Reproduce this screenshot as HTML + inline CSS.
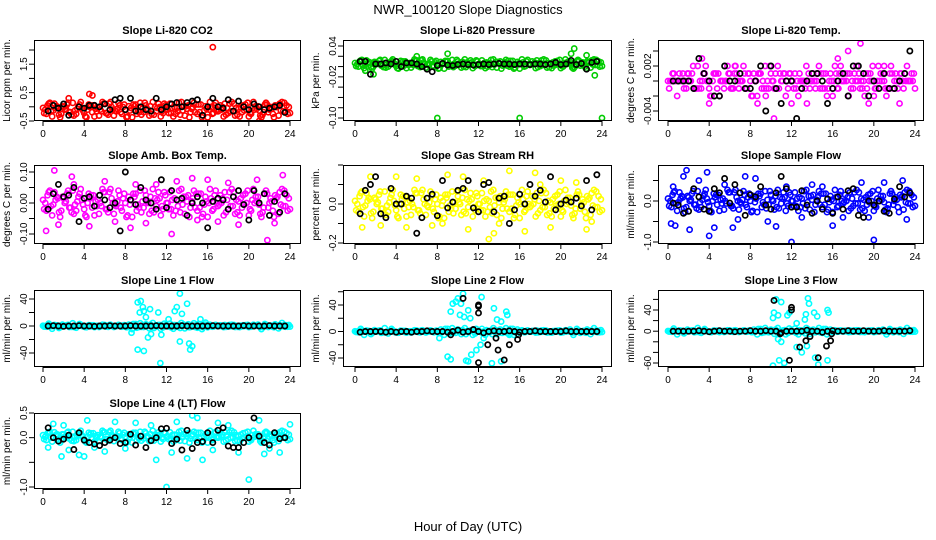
<!DOCTYPE html>
<html><head><meta charset="utf-8"><style>
html,body{margin:0;padding:0;background:#fff;}
svg{display:block;font-family:"Liberation Sans",Arial,sans-serif;}
</style></head><body>
<svg id="chart" width="936" height="540" viewBox="0 0 936 540">
<rect width="936" height="540" fill="#fff"/>
<text x="468" y="14" font-size="13" text-anchor="middle">NWR_100120  Slope Diagnostics</text>
<text x="468" y="531" font-size="13" text-anchor="middle">Hour of Day (UTC)</text>
<g id="panels"></g>
</svg>
<script>
// ---------------- DATA ----------------
const titles = ["Slope Li-820 CO2","Slope Li-820 Pressure","Slope Li-820 Temp.","Slope Amb. Box Temp.","Slope Gas Stream RH","Slope Sample Flow","Slope Line 1 Flow","Slope Line 2 Flow","Slope Line 3 Flow","Slope Line 4 (LT) Flow"];
const yTitles = ["Licor ppm per min.","kPa per min.","degrees C per min.","degrees C per min.","percent per min.","ml/min per min.","ml/min per min.","ml/min per min.","ml/min per min.","ml/min per min."];
const xTickLabels = [0,4,8,12,16,20,24];
const yTickValues = [
 [-0.5,0,0.5,1,1.5,2],
 [0.04,0.02,0,-0.02,-0.04,-0.06,-0.08,-0.10],
 [0.004,0.002,0,-0.002,-0.004],
 [0.10,0.05,0,-0.05,-0.10],
 [0.2,0.1,0,-0.1,-0.2],
 [0.5,0,-0.5,-1.0],
 [40,20,0,-20,-40],
 [60,40,20,0,-20,-40],
 [60,40,20,0,-20,-40,-60],
 [0.5,0,-0.5,-1.0]
];
const yTickLabels = [
 ["-0.5","0.5","1.5"],["0.04","-0.02","-0.10"],["0.002","-0.004"],["0.10","0.00","-0.10"],
 ["0.0","-0.2"],["0.0","-1.0"],["40","0","-40"],["40","0","-40"],["40","0","-60"],["0.5","0.0","-1.0"]
];
const seriesColors = ["#ff0000","#00cc00","#ff00ff","#ff00ff","#ffff00","#0000ff","#00ffff","#00ffff","#00ffff","#00ffff"];

const co2Vals = [-0.04,-0.25,0.14,-0.13,0.02,-0.37,-0.01,0.08,-0.19,-0.31,-0.07,0.17,-0.22,-0.1,0.05,-0.34,-0.04,-0.16,0.11,-0.28,-0.01,-0.13,0.14,-0.25,-0.1,0.02,-0.37,0.08,-0.19,-0.07,0.05,-0.31,0.17,-0.16,-0.01,-0.22,-0.1,0.11,-0.34,-0.04,-0.28,0.02,-0.07,-0.19,0.14,-0.25,0.08,-0.13,-0.37,-0.01,0.05,-0.16,-0.1,0.11,-0.22,0.17,-0.31,-0.07,-0.19,0.08,-0.34,-0.04,0.02,-0.13,-0.28,0.14,-0.1,-0.25,-0.01,0.11,-0.16,0.05,-0.22];
const presVals = [0.007,0.0,0.013,0.004,0.009,-0.004,0.008,0.011,0.002,-0.002,0.006,0.014,0.001,0.005,0.01,-0.003,0.007,0.003,0.012,-0.001,0.008,0.004,0.013,0.0,0.005,0.009,-0.004,0.011,0.002,0.006,0.01,-0.002,0.014,0.003,0.008,0.001,0.005,0.012,-0.003,0.007,-0.001,0.009,0.006,0.002,0.013,0.0,0.011,0.004,-0.004,0.008,0.01,0.003,0.005,0.012,0.001,0.014,-0.002,0.006,0.002,0.011,-0.003,0.007,0.009,0.004,-0.001,0.013,0.005,0.0,0.008,0.012,0.003,0.01,0.001];
const liTempVals = [0,0,0,0,0,0,0.001,0.001,-0.001,-0.001,0,0.002,-0.001,0,0.001,-0.002,0,0,0.001,-0.001,0.001,0,0.002,-0.001,0,0.001,-0.002,0.001,-0.001,0,0.001,-0.001,0.002,0,0.001,-0.001,0,0.001,-0.002,0,-0.001,0.001,0,-0.001,0.002,-0.001,0.001,0,-0.002,0.001,0.001,0,0,0.001,-0.001,0.002,-0.001,0,-0.001,0.001,-0.002,0,0.001,0,-0.001,0.002,0,-0.001,0.001,0.001,0,0.001,-0.001];
const ambVals = [0.01,-0.025,0.04,-0.005,0.02,-0.045,0.015,0.03,-0.015,-0.035,0.005,0.045,-0.02,0,0.025,-0.04,0.01,-0.01,0.035,-0.03,0.015,-0.005,0.04,-0.025,0,0.02,-0.045,0.03,-0.015,0.005,0.025,-0.035,0.045,-0.01,0.015,-0.02,0,0.035,-0.04,0.01,-0.03,0.02,0.005,-0.015,0.04,-0.025,0.03,-0.005,-0.045,0.015,0.025,-0.01,0,0.035,-0.02,0.045,-0.035,0.005,-0.015,0.03,-0.04,0.01,0.02,-0.005,-0.03,0.04,0,-0.025,0.015,0.035,-0.01,0.025,-0.02];
const rhVals = [0.016,-0.04,0.064,-0.008,0.032,-0.072,0.024,0.048,-0.024,-0.056,0.008,0.072,-0.032,0,0.04,-0.064,0.016,-0.016,0.056,-0.048,0.024,-0.008,0.064,-0.04,0,0.032,-0.072,0.048,-0.024,0.008,0.04,-0.056,0.072,-0.016,0.024,-0.032,0,0.056,-0.064,0.016,-0.048,0.032,0.008,-0.024,0.064,-0.04,0.048,-0.008,-0.072,0.024,0.04,-0.016,0,0.056,-0.032,0.072,-0.056,0.008,-0.024,0.048,-0.064,0.016,0.032,-0.008,-0.048,0.064,0,-0.04,0.024,0.056,-0.016,0.04,-0.032];
const sampleVals = [0.06,-0.15,0.24,-0.03,0.12,-0.27,0.09,0.18,-0.09,-0.21,0.03,0.27,-0.12,0,0.15,-0.24,0.06,-0.06,0.21,-0.18,0.09,-0.03,0.24,-0.15,0,0.12,-0.27,0.18,-0.09,0.03,0.15,-0.21,0.27,-0.06,0.09,-0.12,0,0.21,-0.24,0.06,-0.18,0.12,0.03,-0.09,0.24,-0.15,0.18,-0.03,-0.27,0.09,0.15,-0.06,0,0.21,-0.12,0.27,-0.21,0.03,-0.09,0.18,-0.24,0.06,0.12,-0.03,-0.18,0.24,0,-0.15,0.09,0.21,-0.06,0.15,-0.12];
const line1Vals = [0.4,-1,1.6,-0.2,0.8,-1.8,0.6,1.2,-0.6,-1.4,0.2,1.8,-0.8,0,1,-1.6,0.4,-0.4,1.4,-1.2,0.6,-0.2,1.6,-1,0,2,-4.5,3,-1.5,0.5,2.5,-3.5,4.5,-1,1.5,-2,0,3.5,-4,1,-3,2,0.5,-1.5,4,-2.5,3,-0.5,-1.8,0.6,1,-0.4,0,1.4,-0.8,1.8,-1.4,0.2,-0.6,1.2,-1.6,0.4,0.8,-0.2,-1.2,1.6,0,-1,0.6,1.4,-0.4,1,-0.8];
const line2Vals = [0.4,-1,1.6,-0.2,0.8,-1.8,0.6,1.2,-0.6,-1.4,0.2,1.8,-0.8,0,1,-1.6,0.4,-0.4,1.4,-1.2,0.6,-0.2,1.6,-1,0,3,-5,4,-2,1,3,-4,5,-1,2,-3,0,4,-5,1,-4,2,1,-2,5,-3,4,-1,-1.8,0.6,1,-0.4,0,1.4,-0.8,1.8,-1.4,0.2,-0.6,1.2,-1.6,0.4,0.8,-0.2,-1.2,1.6,0,-1,0.6,1.4,-0.4,1,-0.8];
const line3Vals = [0.4,-1,1.6,-0.2,0.8,-1.8,0.6,1.2,-0.6,-1.4,0.2,1.8,-0.8,0,1,-1.6,0.4,-0.4,1.4,-1.2,0.6,-0.2,1.6,-1,0,3,-6,4,-2,1,3,-5,6,-1,2,-3,0,5,-6,1,-4,3,1,-2,6,-3,4,-1,-1.8,0.6,1,-0.4,0,1.4,-0.8,1.8,-1.4,0.2,-0.6,1.2,-1.6,0.4,0.8,-0.2,-1.2,1.6,0,-1,0.6,1.4,-0.4,1,-0.8];
const line4Vals = [0.05,-0.05,0.12,0.01,0.07,-0.1,0.06,0.1,-0.02,-0.07,0.03,0.14,-0.03,0.02,0.09,-0.08,0.05,0,0.11,-0.06,0.06,0.01,0.12,-0.05,0.02,0.07,-0.1,0.1,-0.02,0.03,0.09,-0.07,0.14,0,0.06,-0.03,0.02,0.11,-0.08,0.05,-0.06,0.07,0.03,-0.02,0.12,-0.05,0.1,0.01,-0.1,0.06,0.09,0,0.02,0.11,-0.03,0.14,-0.07,0.03,-0.02,0.1,-0.08,0.05,0.07,0.01,-0.06,0.12,0.02,-0.05,0.06,0.11,0,0.09,-0.03];

const co2Extra = [[4.5,0.45],[4.8,0.4],[16.5,2.1],[19,-0.7],[8,-0.6],[13.3,-0.55],[21,-0.5],[2.5,0.3]];
const presExtra = [[8,-0.1],[16,-0.1],[24,-0.1],[21.3,0.035],[9,0.025],[1.8,-0.015],[23.3,-0.017],[6,0.02],[21,0.025],[22.5,0.022],[1,-0.008]];
const liTempExtra = [[3.3,0.003],[8.7,-0.003],[10.3,-0.005],[18.7,0.005],[12,-0.003],[17.5,0.004],[4,-0.003],[9.5,-0.002],[16.5,0.003],[21,0.002],[22.5,-0.003],[13.5,-0.003],[19.5,-0.003],[6.5,0.002]];
const ambExtra = [[1.1,0.105],[0.3,-0.09],[2.8,0.085],[12.5,-0.1],[21.8,-0.12],[23.3,0.09],[4.5,-0.075],[8.5,-0.08],[19,-0.07],[16,0.075],[6,0.07],[10,-0.065],[14.5,0.08],[20.8,0.075],[17,-0.06],[1.5,-0.07],[13,0.07],[22.5,-0.065],[3,0.06],[11,0.06],[18,0.065],[7,-0.06],[15,-0.055],[9,0.06]];
const rhExtra = [[1.5,0.14],[13,-0.18],[13.5,-0.15],[15,0.17],[17.5,0.16],[4,0.14],[9,0.15],[11,-0.13],[16.5,-0.14],[7.5,-0.11],[20,0.12],[22.5,-0.13],[2.5,-0.11],[19,-0.12],[6,0.13],[10.5,0.14],[0.7,-0.12],[12.5,0.12],[21.5,0.11],[5,-0.12],[14,-0.1],[18,0.1],[23,-0.09],[8.5,-0.1]];
const sampleExtra = [[1.8,0.75],[1.5,0.6],[3.8,0.7],[0.3,-0.55],[0.7,-0.6],[2.1,-0.7],[4,-0.85],[4.5,-0.65],[6.3,-0.65],[12,-1.0],[20,-0.95],[16,-0.6],[10.5,-0.62],[7.5,0.6],[8.5,0.55],[22.8,0.5],[9.7,-0.5],[17,-0.4],[23.2,-0.45],[14,0.4],[3,0.5],[18.8,0.45],[0.5,0.35],[5.5,0.4],[11.5,0.35],[21,0.45],[6.8,-0.45],[13,-0.4],[19.5,-0.4],[15,0.35]];
const line1Extra = [[9.2,35],[9.5,37],[9.7,28],[9.4,20],[9.8,22],[10,13],[10.4,25],[11.2,20],[12.2,10],[12.8,22],[13,28],[13.3,48],[13.5,18],[14,33],[15.3,10],[15.8,5],[8.6,-10],[10.2,-17],[10.5,-12],[11.5,-13],[13.3,-23],[14.2,-26],[14.5,-30],[14.3,-35],[9.2,-35],[9.8,-37],[11.4,-55]];
const line2Extra = [[10,50],[10.5,57],[9.5,42],[9.8,45],[9.3,30],[10.3,42],[10.2,25],[10.6,22],[11,32],[11.2,20],[12.3,52],[13.5,35],[13.8,18],[14.2,15],[14.7,30],[14.8,25],[9,-38],[9.3,-42],[10.8,-44],[11,-45],[11.3,-35],[11.8,-28],[12.2,-20],[12.5,-10],[13.3,-48],[14.2,-45],[8.2,-10],[15,-5]];
const line3Extra = [[10.5,60],[11,55],[10.3,35],[10.7,30],[10.2,25],[11.8,35],[11.6,30],[12.5,15],[13.6,62],[13.7,52],[13.4,32],[13.3,22],[14.2,35],[14.5,28],[15.5,40],[15.6,35],[10.2,-65],[10.8,-55],[11.2,-70],[11.3,-60],[12.5,-30],[13,-40],[13.5,-28],[14.3,-50],[14.6,-63],[15.5,-55],[11,-20],[10.7,-15]];
const line4Extra = [[12,-1.0],[20,-0.85],[14.5,0.45],[15,0.4],[1.8,-0.38],[3.5,-0.35],[4,-0.38],[11,-0.45],[14,-0.42],[15.5,-0.45],[1,0.28],[2,0.25],[4.3,0.35],[9,0.3],[10.5,0.25],[13,0.32],[21,0.35],[24,0.27],[7,0.32],[17,0.3],[19,-0.3],[21.5,-0.33],[6,-0.28],[23,-0.3],[0.5,-0.2],[2.5,-0.25],[5,-0.2],[8,-0.22],[16.5,-0.25],[18,0.25],[22,-0.22],[12.5,-0.3]];

const co2Black = [-0.15,0.05,-0.05,0.1,-0.3,-0.6,0.0,-0.05,0.05,0.05,0.0,0.1,-0.1,0.25,0.3,-0.1,0.3,-0.15,0.0,-0.1,-0.15,0.3,-0.1,0.0,0.1,0.15,0.0,0.15,0.2,0.25,-0.3,0.0,0.3,0.0,-0.05,0.25,-0.15,0.2,0.0,-0.1,0.1,0.0,-0.1,-0.05,0.0,0.05,-0.2];
const presBlack = [0.01,0.01,-0.015,0.005,0.005,0.007,0.005,0.01,0.0,0.007,0.007,0.005,0.0,-0.005,-0.01,0.002,0.006,0.003,0.002,0.004,0.005,0.004,0.003,0.004,0.005,0.004,0.005,0.006,0.005,0.005,0.004,0.005,0.005,0.004,0.005,0.005,0.004,0.005,0.008,0.004,0.005,0.012,0.004,0.006,-0.005,0.008,0.01];
const liTempBlack = [0,0,0,0,-0.001,0.003,0.001,0,-0.002,-0.002,0.002,0,0,0.001,-0.001,-0.001,0,0.002,-0.004,0.002,-0.001,-0.003,0,0,-0.005,-0.001,0,0.001,0.001,0,-0.003,-0.001,0,0.001,-0.002,0.002,0.002,0.001,-0.002,0,-0.001,0.001,-0.001,-0.001,0,0.001,0.004];
const ambBlack = [-0.02,0.03,0.06,0.02,0.025,0.05,-0.06,0.015,0.02,-0.01,0.025,0.01,-0.015,0.0,-0.09,0.1,0.01,-0.005,0.05,0.01,0.0,-0.02,0.075,-0.015,0.04,0.01,0.015,-0.04,0.0,0.02,0.0,-0.08,0.005,0.015,0.01,-0.02,0.02,0.04,-0.005,-0.055,0.04,0.0,0.03,-0.04,0.005,-0.03,0.03];
const rhBlack = [-0.05,0.07,0.1,0.14,-0.05,-0.07,0.08,0.0,0.0,0.04,0.03,-0.15,-0.07,0.03,0.05,-0.06,0.12,-0.02,0.01,0.07,0.08,0.12,-0.02,-0.04,0.1,0.11,-0.04,0.03,0.04,-0.1,-0.03,0.05,0.0,0.1,0.04,0.07,0.01,0.14,-0.03,0.0,0.02,0.01,0.03,-0.01,0.12,-0.03,0.15];
const sampleBlack = [-0.05,-0.1,-0.3,-0.25,0.3,0.1,-0.2,-0.25,0.3,0.2,0.55,-0.05,0.4,0.2,-0.35,0.15,0.1,0.35,-0.1,-0.2,0.2,0.6,0.3,-0.15,-0.15,0.25,-0.1,-0.3,0.0,-0.2,0.05,-0.3,0.1,-0.2,0.25,0.3,-0.35,-0.4,0.0,-0.1,0.0,-0.25,-0.3,0.05,0.35,0.1,0.2];
const line1Black = [0,0.5,0,-0.5,0,0,0.5,0,0,-0.5,0,0,0.5,0,0,0,0.5,0,0,0,0,0.5,0,0,0,0,0.5,0,0,0,0,0,0.5,0,0,0,0,0,0.5,0,0,0,0,0.5,0,0,0];
const line2Black = [-1,0,0,0,0,-1,0,-1,0,0,-1,0,0,1,0,0,0,-1,0,2,-1,0,3,0,-2,0,1,0,0,1,0,-1,0,0,1,0,0,0,0,0,1,0,0,0,0,0,0];
const line3Black = [0,0,0,0,0,1,0,-1,0,1,0,0,-1,0,0,1,0,0,1,0,0,-3,0,0,0,0,2,0,0,-2,0,1,0,0,1,0,0,1,0,0,0,1,0,0,0,0,1];
const line4Black = [0.2,0.0,-0.07,-0.03,0.05,-0.24,0.1,-0.05,-0.1,-0.13,-0.16,-0.1,-0.05,0.0,-0.12,-0.1,0.07,-0.15,0.03,-0.2,-0.06,0.0,0.18,0.19,-0.12,-0.03,-0.25,0.15,-0.22,-0.1,-0.08,0.1,-0.1,0.15,0.2,-0.17,-0.2,-0.2,-0.1,0.0,0.4,0.03,-0.1,-0.15,0.1,-0.02,0.0];
const line2BlackExtra = [[10.5,50],[12,38],[12,40],[12,28],[12,-47],[12.9,-20],[13.7,-10],[13.9,-28],[14.5,-43],[15,-20],[15.8,-12],[15.9,-5],[9.3,-5],[11.5,3]];
const line3BlackExtra = [[10.3,58],[12,45],[12,40],[11.8,-55],[12.8,-30],[13.4,-18],[13.8,-10],[14.6,-50],[15.4,-28],[15.8,-18],[15.9,-5],[10.9,-5]];

const colouredSets = [co2Vals,presVals,liTempVals,ambVals,rhVals,sampleVals,line1Vals,line2Vals,line3Vals,line4Vals];
const extraSets = [co2Extra,presExtra,liTempExtra,ambExtra,rhExtra,sampleExtra,line1Extra,line2Extra,line3Extra,line4Extra];
const blackSets = [co2Black,presBlack,liTempBlack,ambBlack,rhBlack,sampleBlack,line1Black,line2Black,line3Black,line4Black];
const blackExtraSets = [[],[],[],[],[],[],[],line2BlackExtra,line3BlackExtra,[]];

// ---------------- LAYOUT ----------------
const cols = [{L:34,R:301,x0:43,x1:290},{L:343,R:612,x0:355,x1:602},{L:658,R:924,x0:668,x1:915}];
const rows = [{T:40,B:121},{T:165,B:244},{T:290,B:367},{T:413,B:489}];
const yCal = [[-0.5,121,2.0,50],[0.04,46,-0.10,118],[0.004,51,-0.004,111],[0.10,172,-0.10,234],[0.2,165,-0.2,243],[0,201,-1,242],[40,299,-40,353],[40,305,-40,358],[40,310,-60,363],[0.5,413,-1,487]];

const NS = "http://www.w3.org/2000/svg";
const root = document.getElementById("panels");
function mk(tag, attrs, parent){ const e=document.createElementNS(NS,tag); for(const k in attrs) e.setAttribute(k,attrs[k]); (parent||root).appendChild(e); return e; }

titles.forEach((title,p)=>{
  const c=cols[p%3], r=rows[Math.floor(p/3)], cal=yCal[p];
  const xs = h => c.x0 + (h/24)*(c.x1-c.x0);
  const ys = v => cal[1] + (v-cal[0])*(cal[3]-cal[1])/(cal[2]-cal[0]);
  const g = mk("g",{});
  
  
  const cp = mk("clipPath",{id:"cp"+p},g);
  mk("rect",{x:c.L,y:r.T,width:c.R-c.L,height:r.B-r.T},cp);
  const t = mk("text",{x:(c.L+c.R)/2,y:r.T-6,"font-size":11,"font-weight":"bold","text-anchor":"middle"},g);
  t.textContent = title;
  
  
  const yt = mk("text",{transform:`translate(${c.L-24},${(r.T+r.B)/2}) rotate(-90)`,"font-size":10,"text-anchor":"middle"},g);
  yt.textContent = yTitles[p];
  
  
  const mg = mk("g",{"clip-path":`url(#cp${p})`,fill:"none","stroke-width":1.6},g);
  
  
  const col = seriesColors[p];
  const vals = colouredSets[p], n = vals.length;
  const step = 24/(n-1);
  vals.forEach((v,i)=>{
    const h = i*step;
    const a = mk("circle",{cx:xs(h),cy:ys(v),r:2.6,stroke:col},mg);
    
    
    if(i<n-1){
      const b = mk("circle",{cx:xs(h+step/3),cy:ys(vals[n-1-i]),r:2.6,stroke:col},mg);
      
      
      const d = mk("circle",{cx:xs(h+2*step/3),cy:ys(vals[(i+Math.floor(n/2))%n]),r:2.6,stroke:col},mg);
      
      
    }
  });
  extraSets[p].forEach(d=>{
    const e = mk("circle",{cx:xs(d[0]),cy:ys(d[1]),r:2.6,stroke:col},mg);
    
    
  });
  const bv = blackSets[p], bn = bv.length;
  bv.forEach((v,i)=>{
    const h = 0.5 + i*23/(bn-1);
    const k = mk("circle",{cx:xs(h),cy:ys(v),r:2.6,stroke:"#000","stroke-width":1.7},mg);
    
    
  });
  blackExtraSets[p].forEach(d=>{
    const k = mk("circle",{cx:xs(d[0]),cy:ys(d[1]),r:2.6,stroke:"#000","stroke-width":1.7},mg);
    
    
  });
  const box = mk("rect",{x:c.L+0.5,y:r.T+0.5,width:c.R-c.L-1,height:r.B-r.T-1,fill:"none",stroke:"#000","stroke-width":1},g);
  
  
  mk("line",{x1:c.x0,x2:c.x1,y1:r.B+0.5,y2:r.B+0.5,stroke:"#000"},g);
  xTickLabels.forEach(h=>{
    const x = xs(h);
    mk("line",{x1:x,x2:x,y1:r.B,y2:r.B+5,stroke:"#000"},g);
    const tl = mk("text",{x:x,y:r.B+16,"font-size":10,"text-anchor":"middle"},g);
    tl.textContent = h;
    
    
  });
  yTickValues[p].forEach(v=>{
    const y = ys(v);
    mk("line",{x1:c.L-5,x2:c.L,y1:y,y2:y,stroke:"#000"},g);
  });
  yTickLabels[p].forEach(s=>{
    const y = ys(parseFloat(s));
    const tl = mk("text",{transform:`translate(${c.L-7},${y}) rotate(-90)`,"font-size":10,"text-anchor":"middle"},g);
    tl.textContent = s;
    
    
  });
});
</script>
</body></html>
